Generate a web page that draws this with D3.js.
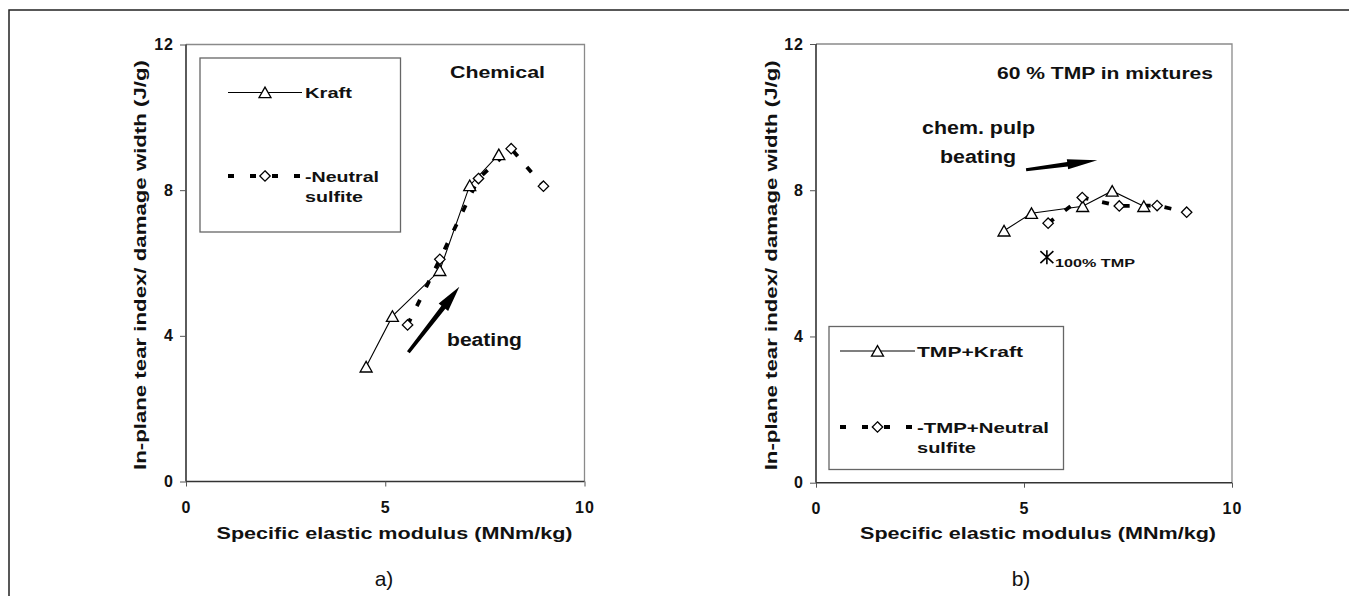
<!DOCTYPE html>
<html><head><meta charset="utf-8">
<script src="https://cdnjs.cloudflare.com/ajax/libs/d3/7.8.5/d3.min.js"></script>
<style>
html,body{margin:0;padding:0;background:#fff;}
svg{display:block;font-family:"Liberation Sans",Arial,sans-serif;}
</style></head>
<body>
<script>
// ---- data ----
const xTicks = [0, 5, 10];
const yTicks = [0, 4, 8, 12];
const kraftX = [4.52, 5.18, 6.37, 7.12, 7.85];
const kraftY = [3.15, 4.54, 5.80, 8.13, 8.98];
const nsX = [5.56, 6.37, 7.34, 8.16, 8.97];
const nsY = [4.30, 6.10, 8.32, 9.14, 8.11];
const tmpKraftX = [4.52, 5.18, 6.41, 7.12, 7.88];
const tmpKraftY = [6.89, 7.37, 7.56, 7.98, 7.56];
const tmpNsX = [5.58, 6.40, 7.29, 8.20, 8.91];
const tmpNsY = [7.10, 7.80, 7.57, 7.58, 7.40];
const tmp100X = [5.55];
const tmp100Y = [6.17];
const xTitle = "Specific elastic modulus (MNm/kg)";
const yTitle = "In-plane tear index/ damage width (J/g)";

const W = 1349, H = 596;
const svg = d3.select("body").append("svg").attr("width", W).attr("height", H);

// outer border
svg.append("rect").attr("x", 9).attr("y", 10).attr("width", 1360).attr("height", 620)
  .attr("fill", "none").attr("stroke", "#222").attr("stroke-width", 1.5);

const trianglePath = "M0,-5.4L6,5.2L-6,5.2Z";
const diamondPath = "M0,-5.2L5.2,0L0,5.2L-5.2,0Z";
const asteriskPath = "M0,-7V7M-6.5,-6L6.5,6M-6.5,6L6.5,-6";
const DASH = "7,14";
const FONT = "'Liberation Sans', Arial, sans-serif";

function txt(g, s, x, y, size, len, opts = {}) {
  const t = g.append("text").attr("x", x).attr("y", y)
    .style("font-size", size + "px")
    .style("font-weight", opts.normal ? "normal" : "bold")
    .style("font-family", opts.family || FONT)
    .attr("fill", "#111")
    .attr("text-anchor", opts.anchor || "start").text(s);
  if (len) t.attr("textLength", len).attr("lengthAdjust", "spacingAndGlyphs");
  if (opts.rotate) t.attr("transform", `rotate(-90,${x},${y})`);
  return t;
}

function arrow(g, x, y, p0, p1, shaft, headLen, headW) {
  const x0 = x(p0[0]), y0 = y(p0[1]), x1 = x(p1[0]), y1 = y(p1[1]);
  const dx = x1 - x0, dy = y1 - y0, L = Math.hypot(dx, dy);
  const ux = dx / L, uy = dy / L, nx = -uy, ny = ux;
  const bx = x1 - ux * headLen, by = y1 - uy * headLen;
  const pts = [
    [x0 + nx * shaft * 0.35, y0 + ny * shaft * 0.35],
    [bx + nx * shaft / 2, by + ny * shaft / 2],
    [bx + nx * headW / 2, by + ny * headW / 2],
    [x1, y1],
    [bx - nx * headW / 2, by - ny * headW / 2],
    [bx - nx * shaft / 2, by - ny * shaft / 2],
    [x0 - nx * shaft * 0.35, y0 - ny * shaft * 0.35]
  ];
  g.append("path").attr("d", "M" + pts.map(p => p.join(",")).join("L") + "Z").attr("fill", "#000");
}

function panel(cfg) {
  const g = svg.append("g");
  const x = d3.scaleLinear().domain([0, 10]).range([cfg.left, cfg.right]);
  const y = d3.scaleLinear().domain([0, 12]).range([cfg.bottom, cfg.top]);

  // frame top/right
  g.append("path").attr("d", `M${cfg.left},${cfg.top}H${cfg.right}V${cfg.bottom}`)
    .attr("fill", "none").attr("stroke", "#8a8a8a").attr("stroke-width", 1.3);

  const xa = g.append("g").attr("transform", `translate(0,${cfg.bottom})`)
    .call(d3.axisBottom(x).tickValues(xTicks).tickSize(5).tickFormat(d3.format("d")));
  const ya = g.append("g").attr("transform", `translate(${cfg.left},0)`)
    .call(d3.axisLeft(y).tickValues(yTicks).tickSize(6).tickFormat(d3.format("d")));
  [xa, ya].forEach(a => {
    a.attr("font-size", null).attr("font-family", null);
    a.select(".domain").attr("stroke", "#333").attr("stroke-width", 1.6);
    a.selectAll(".tick line").attr("stroke", "#555").attr("stroke-width", 1);
    a.selectAll(".tick text")
      .style("font-size", "16px").style("font-weight", "bold")
      .style("letter-spacing", "1px")
      .style("font-family", FONT)
      .attr("fill", "#111");
  });
  xa.select(".domain").attr("d", `M${cfg.left},0H${cfg.right}`);
  ya.select(".domain").attr("d", `M0,${cfg.bottom}V${cfg.top}`);
  xa.selectAll(".tick text").attr("dy", "0.71em").attr("y", 20);
  ya.selectAll(".tick text").attr("x", -12);

  // axis titles
  txt(g, xTitle, cfg.xTitleX, 539, 17, 356, { anchor: "middle" });
  txt(g, yTitle, cfg.yTitleX, (cfg.top + cfg.bottom) / 2 + 2, 17, 410, { anchor: "middle", rotate: true });
  txt(g, cfg.sub, cfg.subX, 586, 21, null, { anchor: "middle", normal: true,
    family: "'Liberation Sans Narrow', 'Liberation Sans', Arial, sans-serif" });

  const line = d3.line().x(d => x(d[0])).y(d => y(d[1]));
  const solid = cfg.sx.map((v, i) => [v, cfg.sy[i]]);
  const dashed = cfg.dx.map((v, i) => [v, cfg.dy[i]]);

  g.append("path").datum(dashed).attr("d", line).attr("fill", "none")
    .attr("stroke", "#000").attr("stroke-width", 3.8).attr("stroke-dasharray", DASH);
  g.append("path").datum(solid).attr("d", line).attr("fill", "none")
    .attr("stroke", "#000").attr("stroke-width", 1.1);
  g.selectAll(".tri").data(solid).join("path").attr("d", trianglePath)
    .attr("transform", d => `translate(${x(d[0])},${y(d[1])})`)
    .attr("fill", "#fff").attr("stroke", "#000").attr("stroke-width", 1.3);
  g.selectAll(".dia").data(dashed).join("path").attr("d", diamondPath)
    .attr("transform", d => `translate(${x(d[0])},${y(d[1])})`)
    .attr("fill", "#fff").attr("stroke", "#000").attr("stroke-width", 1.3);

  // legend
  const L = cfg.legend;
  g.append("rect").attr("x", L.x).attr("y", L.y).attr("width", L.w).attr("height", L.h)
    .attr("fill", "#fff").attr("stroke", "#666").attr("stroke-width", 1.3);
  g.append("line").attr("x1", L.lx0).attr("x2", L.lx1).attr("y1", L.y1).attr("y2", L.y1)
    .attr("stroke", "#000").attr("stroke-width", 1.1);
  g.append("path").attr("d", trianglePath).attr("transform", `translate(${(L.lx0 + L.lx1) / 2},${L.y1})`)
    .attr("fill", "#fff").attr("stroke", "#000").attr("stroke-width", 1.3);
  g.append("line").attr("x1", L.lx0).attr("x2", L.lx1 + 4).attr("y1", L.y2).attr("y2", L.y2)
    .attr("stroke", "#000").attr("stroke-width", 3.8).attr("stroke-dasharray", "6,16");
  g.append("path").attr("d", diamondPath).attr("transform", `translate(${(L.lx0 + L.lx1) / 2},${L.y2})`)
    .attr("fill", "#fff").attr("stroke", "#000").attr("stroke-width", 1.3);
  txt(g, L.t1, L.tx, L.y1 + 5.5, 15, L.t1w);
  txt(g, L.t2, L.tx, L.y2 + 5.5, 15, L.t2w);
  txt(g, L.t3, L.tx, L.y2 + 26, 15, L.t3w);

  return { g, x, y };
}

// Panel a
const a = panel({
  left: 186, right: 584.5, top: 44.5, bottom: 481.5,
  sx: kraftX, sy: kraftY, dx: nsX, dy: nsY,
  xTitleX: 394.5, yTitleX: 146, sub: "a)", subX: 384,
  legend: { x: 200, y: 58, w: 200.5, h: 174, lx0: 228, lx1: 302, y1: 92.5, y2: 176,
    tx: 305, t1: "Kraft", t1w: 47, t2: "-Neutral", t2w: 74, t3: "sulfite", t3w: 58 }
});
txt(a.g, "Chemical", 450, 78, 16, 95);
txt(a.g, "beating", 447, 346, 18, 75);
arrow(a.g, a.x, a.y, [5.58, 3.55], [6.86, 5.35], 5, 26, 12);

// Panel b
const b = panel({
  left: 816, right: 1232, top: 44, bottom: 482.7,
  sx: tmpKraftX, sy: tmpKraftY, dx: tmpNsX, dy: tmpNsY,
  xTitleX: 1038, yTitleX: 777, sub: "b)", subX: 1021,
  legend: { x: 829, y: 326.5, w: 234.5, h: 143, lx0: 840, lx1: 915, y1: 351, y2: 427,
    tx: 917, t1: "TMP+Kraft", t1w: 106, t2: "-TMP+Neutral", t2w: 132, t3: "sulfite", t3w: 59 }
});
txt(b.g, "60 % TMP in mixtures", 997, 79, 16, 216);
txt(b.g, "chem. pulp", 922, 134, 18, 113);
txt(b.g, "beating", 940, 163, 18, 76);
arrow(b.g, b.x, b.y, [5.05, 8.56], [6.76, 8.82], 4.5, 30, 10);
b.g.selectAll(".ast").data(tmp100X.map((v, i) => [v, tmp100Y[i]])).join("path")
  .attr("d", asteriskPath)
  .attr("transform", d => `translate(${b.x(d[0])},${b.y(d[1])})`)
  .attr("fill", "none").attr("stroke", "#000").attr("stroke-width", 1.6);
txt(b.g, "100% TMP", 1055, 267, 11, 80);
</script>
</body></html>
